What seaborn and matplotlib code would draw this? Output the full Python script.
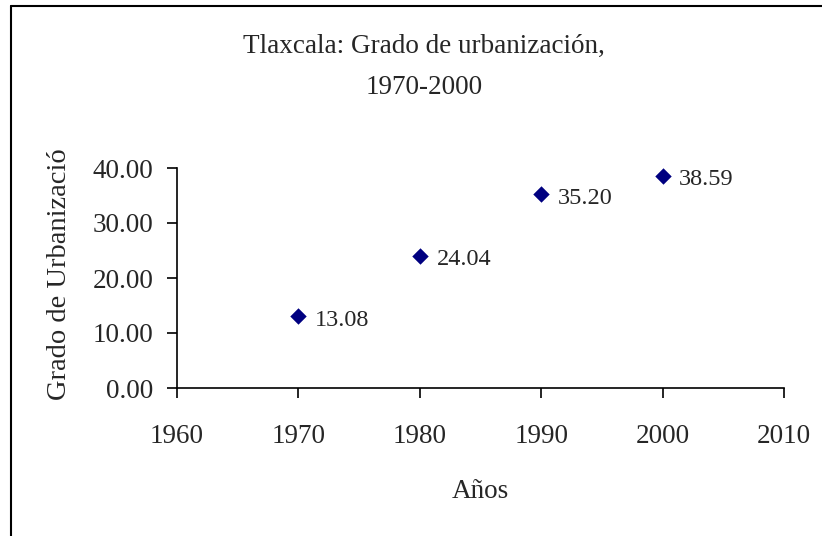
import numpy as np
import pandas as pd
import matplotlib
matplotlib.use("Agg")
import matplotlib.pyplot as plt
import seaborn as sns

# data
years = [1970, 1980, 1990, 2000]
grado = [13.08, 24.04, 35.20, 38.59]
etiquetas = ["13.08", "24.04", "35.20", "38.59"]
xticks = [1960, 1970, 1980, 1990, 2000, 2010]
yticks = [0, 10, 20, 30, 40]

df = pd.DataFrame({"anio": years, "grado": grado})

sns.set_style("white")
plt.rcParams["font.family"] = ["Liberation Serif", "DejaVu Serif"]
plt.rcParams["font.size"] = 19

fig = plt.figure(figsize=(8.22, 5.36), dpi=100)
ax = fig.add_axes([177 / 822, 1 - 388 / 536, 607 / 822, 220 / 536])

sns.scatterplot(data=df, x="anio", y="grado", marker="D", color="#000080",
                s=70, edgecolor="#000080", linewidth=0, ax=ax, zorder=3)

# data labels next to each point
for x, y, t in zip(years, grado, etiquetas):
    ax.annotate(t, (x, y), xytext=(12, -3), textcoords="offset points",
                va="center", ha="left", fontsize=17.5)

ax.set_xlim(1960, 2010)
ax.set_ylim(0, 40)
ax.set_xticks(xticks)
ax.set_yticks(yticks)
ax.set_yticklabels([f"{v:.2f}" for v in yticks])
ax.tick_params(axis="both", direction="out", length=7, width=1.2, color="black",
               labelsize=19.5, bottom=True, left=True)
ax.tick_params(axis="x", pad=19)
ax.tick_params(axis="y", pad=10)
sns.despine(ax=ax)
for s in ["left", "bottom"]:
    ax.spines[s].set_color("black")
    ax.spines[s].set_linewidth(1.2)

ax.set_xlabel("Años", fontsize=19.5, va="baseline")
ax.xaxis.set_label_coords(0.5, (388 - 498) / 220)
ax.set_ylabel("Grado de Urbanizació", fontsize=20.5)
ax.yaxis.set_label_coords((72 - 177) / 607, (388 - 274.5) / 220)

fig.text(424 / 822, 1 - 53 / 536, "Tlaxcala: Grado de urbanización,", ha="center",
         va="baseline", fontsize=19.5)
fig.text(424 / 822, 1 - 94 / 536, "1970-2000", ha="center", va="baseline",
         fontsize=19.5)

# border of the chart area (only left and top edges are visible)
fig.add_artist(plt.Line2D([11 / 822, 11 / 822], [0, 1 - 6 / 536], color="black",
                          lw=1.5, transform=fig.transFigure))
fig.add_artist(plt.Line2D([11 / 822, 1], [1 - 6 / 536, 1 - 6 / 536], color="black",
                          lw=1.5, transform=fig.transFigure))

fig.savefig("out.png", dpi=100)
